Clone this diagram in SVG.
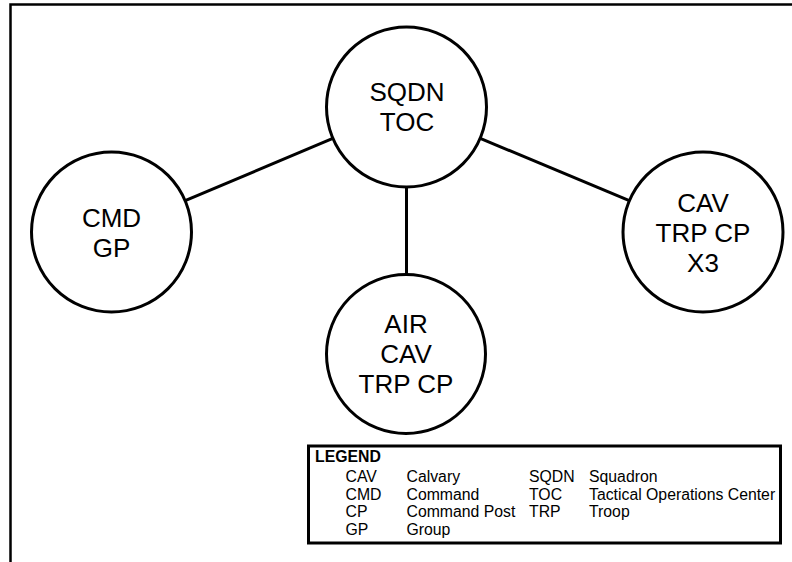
<svg xmlns="http://www.w3.org/2000/svg" width="792" height="562" viewBox="0 0 792 562">
<style>
.frame{fill:none;stroke:#000;stroke-width:2.5}
.node circle{fill:#fff;stroke:#000;stroke-width:3}
.node text{font-family:"Liberation Sans",Arial,sans-serif;font-size:26px;text-anchor:middle;fill:#000}
.conn line{stroke:#000;stroke-width:3}
.leg{font-family:"Liberation Sans",Arial,sans-serif;font-size:15.8px;fill:#000}
.legbox{fill:#fff;stroke:#000;stroke-width:3}
</style>
<rect width="792" height="562" fill="#fff"/>
<path class="frame" d="M10.5,562 V4.5 H792"/>
<g id="connectors" class="conn">
<line x1="332.8" y1="138.3" x2="185.2" y2="200.7"/>
<line x1="480.2" y1="138.3" x2="629.3" y2="200.7"/>
<line x1="406.5" y1="187" x2="406.5" y2="274"/>
</g>
<g id="sqdn-toc" class="node">
<circle cx="406.5" cy="107" r="80"/>
<text x="407" y="101">SQDN</text>
<text x="407" y="131">TOC</text>
</g>
<g id="cmd-gp" class="node">
<circle cx="111.5" cy="232" r="80"/>
<text x="111.5" y="227">CMD</text>
<text x="111.5" y="257">GP</text>
</g>
<g id="cav-trp-cp" class="node">
<circle cx="703" cy="232" r="80"/>
<text x="703" y="212">CAV</text>
<text x="703" y="242">TRP CP</text>
<text x="703" y="272">X3</text>
</g>
<g id="air-cav-trp-cp" class="node">
<circle cx="406" cy="354" r="79.5"/>
<text x="406" y="333">AIR</text>
<text x="406" y="363">CAV</text>
<text x="406" y="393">TRP CP</text>
</g>
<g id="legend">
<rect class="legbox" x="308.5" y="446" width="472" height="97"/>
<text class="leg" x="315" y="462" font-weight="bold">LEGEND</text>
<g class="leg">
<text x="345.5" y="482">CAV</text>
<text x="345.5" y="500">CMD</text>
<text x="345.5" y="517">CP</text>
<text x="345.5" y="535">GP</text>
<text x="406.5" y="482">Calvary</text>
<text x="406.5" y="500">Command</text>
<text x="406.5" y="517">Command Post</text>
<text x="406.5" y="535">Group</text>
<text x="529" y="482">SQDN</text>
<text x="529" y="500">TOC</text>
<text x="529" y="517">TRP</text>
<text x="589" y="482">Squadron</text>
<text x="589" y="500">Tactical Operations Center</text>
<text x="589" y="517">Troop</text>
</g>
</g>
</svg>
